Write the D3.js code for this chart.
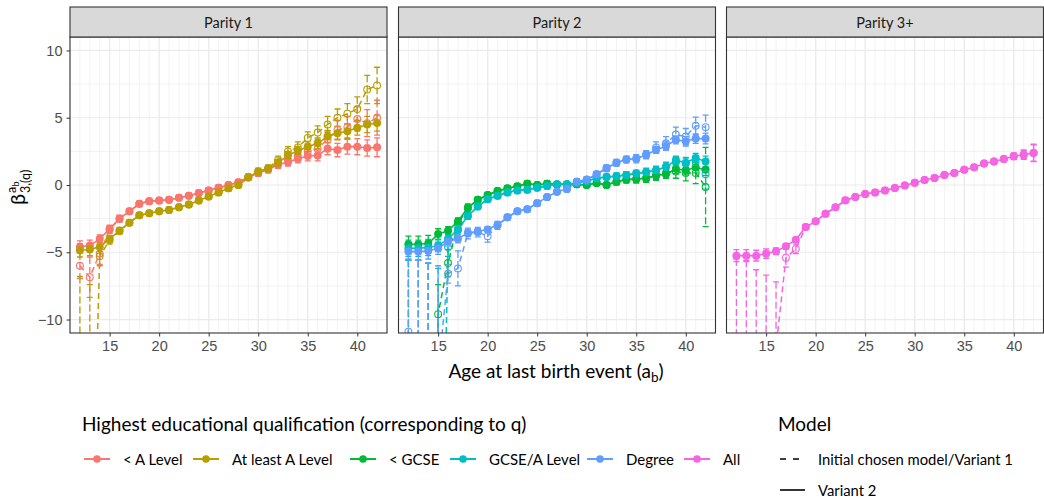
<!DOCTYPE html>
<html>
<head>
<meta charset="utf-8">
<script src="https://cdn.jsdelivr.net/npm/d3@7"></script>
<style>
  body { margin: 0; background: #fff; }
  svg { font-family: Lato, "Open Sans", sans-serif; }
</style>
</head>
<body>
<svg id="chart" width="1044" height="502"></svg>
<script>
// ages on the x axis
const ages = [12,13,14,15,16,17,18,19,20,21,22,23,24,25,26,27,28,29,30,31,32,33,34,35,36,37,38,39,40,41,42];

// Parity 1 - "< A Level"
const aLowV2    = [-4.6,-4.5,-4.0,-3.25,-2.5,-1.95,-1.4,-1.2,-1.15,-1.1,-0.95,-0.8,-0.6,-0.4,-0.2,0.0,0.2,0.6,0.9,1.15,1.5,1.7,1.95,2.15,2.2,2.7,2.6,2.85,2.85,2.75,2.8];
const aLowV2Err = [0.45,0.4,0.3,0.25,0.2,0.15,0.15,0.15,0.15,0.15,0.15,0.15,0.15,0.15,0.15,0.15,0.15,0.15,0.2,0.2,0.25,0.3,0.3,0.35,0.4,0.45,0.5,0.55,0.6,0.6,0.7];
const aLowV1    = [-6.0,-6.85,-5.1,-3.3,-2.5,-1.95,-1.4,-1.2,-1.15,-1.1,-0.95,-0.8,-0.6,-0.4,-0.2,0.0,0.2,0.6,0.9,1.15,1.55,1.85,2.2,2.5,2.7,3.4,4.1,4.3,4.9,4.6,5.0];
const aLowV1Err = [0.95,1.5,0.8,0.3,0.25,0.2,0.2,0.2,0.2,0.2,0.2,0.2,0.2,0.2,0.2,0.2,0.2,0.2,0.25,0.25,0.3,0.35,0.4,0.45,0.5,0.6,0.7,0.8,0.9,1.0,1.3];

// Parity 1 - "At least A Level"
const aHighV2    = [-4.85,-4.8,-4.6,-4.0,-3.4,-2.8,-2.25,-2.1,-1.95,-1.85,-1.65,-1.45,-1.15,-0.85,-0.55,-0.25,0.0,0.55,1.0,1.2,1.65,2.2,2.55,2.85,3.1,3.6,3.85,4.0,4.25,4.5,4.6];
const aHighV2Err = [0.5,0.45,0.35,0.25,0.2,0.15,0.15,0.15,0.15,0.15,0.15,0.15,0.15,0.15,0.15,0.15,0.15,0.15,0.2,0.2,0.25,0.3,0.3,0.35,0.4,0.45,0.5,0.55,0.55,0.6,0.6];
const aHighV1    = [-32,-31,-5.3,-4.1,-3.4,-2.8,-2.25,-2.1,-1.95,-1.85,-1.65,-1.45,-1.15,-0.85,-0.55,-0.25,0.0,0.55,1.0,1.25,1.85,2.5,2.8,3.5,3.9,4.5,5.0,5.3,5.65,7.1,7.4];
const aHighV1Err = [25.2,23.6,0.7,0.3,0.25,0.2,0.2,0.2,0.2,0.2,0.2,0.2,0.2,0.2,0.2,0.2,0.2,0.2,0.25,0.25,0.3,0.35,0.4,0.45,0.5,0.6,0.65,0.75,0.9,1.05,1.35];

// Parity 2 - "< GCSE"
const gcseLowV2    = [-4.4,-4.4,-4.35,-3.65,-3.4,-2.7,-1.7,-1.1,-0.75,-0.45,-0.25,-0.1,0.1,0.0,0.1,0.05,0.05,0.05,0.0,0.15,0.0,0.25,0.4,0.45,0.5,0.7,0.8,1.2,1.1,1.3,1.15];
const gcseLowV2Err = [0.6,0.6,0.6,0.4,0.3,0.25,0.2,0.15,0.15,0.15,0.15,0.15,0.15,0.15,0.15,0.15,0.15,0.15,0.15,0.15,0.15,0.2,0.2,0.25,0.25,0.3,0.3,0.35,0.35,0.4,0.45];
const gcseLowV1    = [-40,-40,-100,-9.6,-5.8,-2.9,-1.7,-1.1,-0.75,-0.45,-0.25,-0.1,0.1,0.0,0.1,0.05,0.05,0.05,0.0,0.15,0.0,0.25,0.4,0.45,0.5,0.7,0.9,1.0,0.9,0.9,-0.15];
const gcseLowV1Err = [34.4,34.4,94.2,2.2,1.0,0.4,0.3,0.2,0.2,0.2,0.2,0.2,0.2,0.2,0.2,0.2,0.2,0.2,0.2,0.2,0.2,0.25,0.25,0.3,0.3,0.35,0.4,0.5,0.6,0.8,2.95];

// Parity 2 - "GCSE/A Level"
const gcseAV2    = [-4.7,-4.7,-4.65,-4.5,-4.0,-3.3,-2.3,-1.6,-1.05,-0.8,-0.55,-0.4,-0.35,-0.2,-0.08,0.05,0.05,0.15,0.3,0.5,0.6,0.65,0.75,0.85,0.95,1.1,1.35,1.85,1.65,2.0,1.75];
const gcseAV2Err = [0.6,0.6,0.6,0.45,0.35,0.25,0.2,0.15,0.15,0.15,0.15,0.15,0.15,0.15,0.15,0.15,0.15,0.15,0.15,0.15,0.15,0.2,0.2,0.2,0.25,0.25,0.3,0.3,0.35,0.35,0.4];
const gcseAV1    = [-40,-40,-40,-40,-4.6,-3.3,-2.3,-1.6,-1.05,-0.8,-0.55,-0.4,-0.35,-0.2,-0.08,0.05,0.05,0.15,0.3,0.5,0.6,0.65,0.75,0.85,0.95,1.1,1.35,1.7,1.6,1.7,0.8];
const gcseAV1Err = [34.4,34.4,34.2,33.8,0.7,0.35,0.25,0.2,0.2,0.2,0.2,0.2,0.2,0.2,0.2,0.2,0.2,0.2,0.2,0.2,0.2,0.25,0.25,0.25,0.3,0.3,0.35,0.4,0.45,0.5,1.1];

// Parity 2 - "Degree"
const degreeV2    = [-4.95,-4.95,-4.9,-4.7,-4.2,-4.0,-3.55,-3.45,-3.3,-2.95,-2.4,-1.95,-1.8,-1.35,-0.9,-0.5,-0.3,0.25,0.4,0.8,1.25,1.65,1.9,1.95,2.25,2.6,2.9,3.35,3.25,3.45,3.45];
const degreeV2Err = [0.6,0.6,0.6,0.45,0.35,0.3,0.25,0.2,0.2,0.15,0.15,0.15,0.15,0.15,0.15,0.15,0.15,0.15,0.15,0.15,0.2,0.2,0.2,0.2,0.25,0.25,0.3,0.3,0.35,0.35,0.4];
const degreeV1    = [-10.9,-40,-40,-14,-6.6,-6.2,-3.6,-3.5,-3.8,-3.0,-2.4,-1.95,-1.8,-1.35,-0.9,-0.5,-0.3,0.25,0.4,0.8,1.25,1.65,1.9,1.95,2.25,2.8,3.1,3.75,3.6,4.4,4.3];
const degreeV1Err = [5.4,34.4,34.2,8.0,0.7,1.3,0.4,0.35,0.45,0.3,0.2,0.2,0.2,0.2,0.2,0.2,0.2,0.2,0.2,0.2,0.25,0.25,0.25,0.3,0.3,0.4,0.5,0.55,0.6,0.65,0.9];

// Parity 3+ - "All"
const allV2    = [-5.25,-5.25,-5.25,-5.1,-4.93,-4.56,-4.06,-3.12,-2.7,-2.13,-1.66,-1.14,-0.89,-0.67,-0.55,-0.4,-0.22,-0.03,0.17,0.37,0.52,0.75,0.89,1.14,1.31,1.6,1.75,1.93,2.13,2.25,2.38];
const allV2Err = [0.45,0.45,0.4,0.35,0.25,0.2,0.15,0.1,0.1,0.1,0.1,0.1,0.1,0.1,0.1,0.1,0.1,0.1,0.1,0.1,0.1,0.1,0.1,0.1,0.1,0.1,0.15,0.15,0.2,0.3,0.6];
const allV1    = [-60,-60,-60,-60,-12.1,-5.4,-4.75,-3.12,-2.7,-2.13,-1.66,-1.14,-0.89,-0.67,-0.55,-0.4,-0.22,-0.03,0.17,0.37,0.52,0.75,0.89,1.14,1.31,1.6,1.75,1.93,2.13,2.25,2.38];
const allV1Err = [54.5,54.4,53.7,53.3,4.9,0.7,0.35,0.15,0.15,0.15,0.15,0.15,0.15,0.15,0.15,0.15,0.15,0.15,0.15,0.15,0.15,0.15,0.15,0.15,0.15,0.15,0.2,0.2,0.25,0.35,0.65];

// axis ticks and labels
const xTicks = [15, 20, 25, 30, 35, 40];
const yTicks = [-10, -5, 0, 5, 10];
const qualLabels = ['< A Level', 'At least A Level', '< GCSE', 'GCSE/A Level', 'Degree', 'All'];
const qualColors = ['#F8766D', '#B79F00', '#00BA38', '#00BFC4', '#619CFF', '#F564E3'];
const modelLabels = ['Initial chosen model/Variant 1', 'Variant 2'];

const panels = [
  { title: 'Parity 1', left: 70, series: [
    { c: 0, v1: aLowV1, e1: aLowV1Err, v2: aLowV2, e2: aLowV2Err },
    { c: 1, v1: aHighV1, e1: aHighV1Err, v2: aHighV2, e2: aHighV2Err } ] },
  { title: 'Parity 2', left: 398.5, series: [
    { c: 2, v1: gcseLowV1, e1: gcseLowV1Err, v2: gcseLowV2, e2: gcseLowV2Err },
    { c: 3, v1: gcseAV1, e1: gcseAV1Err, v2: gcseAV2, e2: gcseAV2Err },
    { c: 4, v1: degreeV1, e1: degreeV1Err, v2: degreeV2, e2: degreeV2Err } ] },
  { title: 'Parity 3+', left: 726.5, series: [
    { c: 5, v1: allV1, e1: allV1Err, v2: allV2, e2: allV2Err } ] }
];

const panelW = 317;
const stripTop = 7, plotTop = 37, plotBottom = 333;
const svg = d3.select('#chart');

const y = d3.scaleLinear().domain([-11, 11]).range([plotBottom, plotTop]);

panels.forEach((p, pi) => {
  const x = d3.scaleLinear().domain([11, 43]).range([p.left, p.left + panelW]);
  const g = svg.append('g');

  g.append('clipPath').attr('id', 'clip' + pi)
    .append('rect').attr('x', p.left).attr('y', plotTop).attr('width', panelW).attr('height', plotBottom - plotTop);

  // grid: minor then major
  const minorX = d3.range(11, 44);
  g.append('g').selectAll('line').data(minorX).join('line')
    .attr('x1', d => x(d)).attr('x2', d => x(d)).attr('y1', plotTop).attr('y2', plotBottom)
    .attr('stroke', '#EBEBEB').attr('stroke-width', 0.6);
  g.append('g').selectAll('line').data([-7.5, -2.5, 2.5, 7.5]).join('line')
    .attr('x1', p.left).attr('x2', p.left + panelW).attr('y1', d => y(d)).attr('y2', d => y(d))
    .attr('stroke', '#EBEBEB').attr('stroke-width', 0.6);
  g.append('g').selectAll('line').data(xTicks).join('line')
    .attr('x1', d => x(d)).attr('x2', d => x(d)).attr('y1', plotTop).attr('y2', plotBottom)
    .attr('stroke', '#EBEBEB').attr('stroke-width', 1.2);
  g.append('g').selectAll('line').data(yTicks).join('line')
    .attr('x1', p.left).attr('x2', p.left + panelW).attr('y1', d => y(d)).attr('y2', d => y(d))
    .attr('stroke', '#EBEBEB').attr('stroke-width', 1.2);

  const marks = g.append('g').attr('clip-path', `url(#clip${pi})`);
  const line = vals => d3.line().x((d, i) => x(ages[i])).y(d => y(d))(vals);

  // lines
  p.series.forEach(s => {
    const col = qualColors[s.c];
    marks.append('path').attr('d', line(s.v1)).attr('fill', 'none')
      .attr('stroke', col).attr('stroke-width', 1.5).attr('stroke-dasharray', '6,4');
    marks.append('path').attr('d', line(s.v2)).attr('fill', 'none')
      .attr('stroke', col).attr('stroke-width', 1.6);
  });

  // error bars
  const capW = 3;
  p.series.forEach(s => {
    const col = qualColors[s.c];
    [[s.v1, s.e1, '7,3'], [s.v2, s.e2, null]].forEach(([vals, errs, dash]) => {
      const eg = marks.append('g').attr('stroke', col).attr('stroke-width', 1.3).attr('fill', 'none');
      const rows = vals.map((v, i) => ({ a: ages[i], lo: v - errs[i], hi: v + errs[i] }));
      eg.selectAll('path').data(rows).join('path')
        .attr('d', d => {
          const cx = x(d.a), yl = y(d.lo), yh = y(d.hi);
          return `M${cx - capW},${yh}H${cx + capW}M${cx},${yh}V${yl}M${cx - capW},${yl}H${cx + capW}`;
        })
        .attr('stroke-dasharray', dash);
    });
  });

  // points
  p.series.forEach(s => {
    const col = qualColors[s.c];
    marks.append('g').selectAll('circle').data(s.v1).join('circle')
      .attr('cx', (d, i) => x(ages[i])).attr('cy', d => y(d)).attr('r', 3.4)
      .attr('fill', 'none').attr('stroke', col).attr('stroke-width', 1.1);
    marks.append('g').selectAll('circle').data(s.v2).join('circle')
      .attr('cx', (d, i) => x(ages[i])).attr('cy', d => y(d)).attr('r', 4)
      .attr('fill', col);
  });

  // panel border
  g.append('rect').attr('x', p.left).attr('y', plotTop).attr('width', panelW).attr('height', plotBottom - plotTop)
    .attr('fill', 'none').attr('stroke', '#333').attr('stroke-width', 1.1);

  // strip
  g.append('rect').attr('x', p.left).attr('y', stripTop).attr('width', panelW).attr('height', plotTop - stripTop)
    .attr('fill', '#D9D9D9').attr('stroke', '#333').attr('stroke-width', 1.1);
  g.append('text').attr('x', p.left + panelW / 2).attr('y', (stripTop + plotTop) / 2)
    .attr('text-anchor', 'middle').attr('dominant-baseline', 'central')
    .attr('font-size', 14.5).attr('fill', '#1A1A1A').text(p.title);

  // x axis
  const xa = g.append('g').attr('transform', `translate(0,${plotBottom})`)
    .call(d3.axisBottom(x).tickValues(xTicks).tickSize(3.5).tickPadding(4));
  xa.select('.domain').remove();
  xa.selectAll('line').attr('stroke', '#333');
  xa.selectAll('text').attr('fill', '#4D4D4D').attr('font-size', 14.5).attr('font-family', null);

  if (pi === 0) {
    const ya = g.append('g').attr('transform', `translate(${p.left},0)`)
      .call(d3.axisLeft(y).tickValues(yTicks).tickSize(3.5).tickPadding(4));
    ya.select('.domain').remove();
    ya.selectAll('line').attr('stroke', '#333');
    ya.selectAll('text').attr('fill', '#4D4D4D').attr('font-size', 14.5).attr('font-family', null);
  }
});

// x axis title
const xt = svg.append('text').attr('x', 556).attr('y', 378).attr('text-anchor', 'middle')
  .attr('font-size', 19).attr('fill', '#000');
xt.append('tspan').text('Age at last birth event (a');
xt.append('tspan').attr('font-size', 13.5).attr('dy', 4).text('b');
xt.append('tspan').attr('dy', -4).text(')');

// y axis title
const yt = svg.append('g').attr('transform', 'translate(25,185) rotate(-90)').attr('fill', '#000');
yt.append('text').attr('x', -20).attr('y', 0).attr('font-size', 20).text('β');
yt.append('text').attr('x', -8).attr('y', -9).attr('font-size', 12.5).text('a');
yt.append('text').attr('x', -1.5).attr('y', -6).attr('font-size', 9).text('b');
yt.append('text').attr('x', -8).attr('y', 5).attr('font-size', 12.5).text('3,(q)');

// legend: qualification
const lg = svg.append('g');
lg.append('text').attr('x', 82).attr('y', 431).attr('font-size', 19).attr('fill', '#000')
  .text('Highest educational qualification (corresponding to q)');
const keyX = [84, 193, 350, 450, 587, 684];
qualLabels.forEach((lab, i) => {
  const kx = keyX[i];
  lg.append('line').attr('x1', kx).attr('x2', kx + 26).attr('y1', 459).attr('y2', 459)
    .attr('stroke', qualColors[i]).attr('stroke-width', 2);
  lg.append('circle').attr('cx', kx + 13).attr('cy', 459).attr('r', 3.8).attr('fill', qualColors[i]);
  lg.append('text').attr('x', kx + 39).attr('y', 459).attr('dominant-baseline', 'central')
    .attr('font-size', 15).attr('fill', '#000').text(lab);
});

// legend: model
lg.append('text').attr('x', 778).attr('y', 431).attr('font-size', 19).attr('fill', '#000').text('Model');
[459, 490].forEach((ky, i) => {
  lg.append('line').attr('x1', 780).attr('x2', 805).attr('y1', ky).attr('y2', ky)
    .attr('stroke', '#000').attr('stroke-width', 1.6).attr('stroke-dasharray', i === 0 ? '6,7' : null);
  lg.append('text').attr('x', 818).attr('y', ky).attr('dominant-baseline', 'central')
    .attr('font-size', 14.8).attr('fill', '#000').text(modelLabels[i]);
});
</script>
</body>
</html>
